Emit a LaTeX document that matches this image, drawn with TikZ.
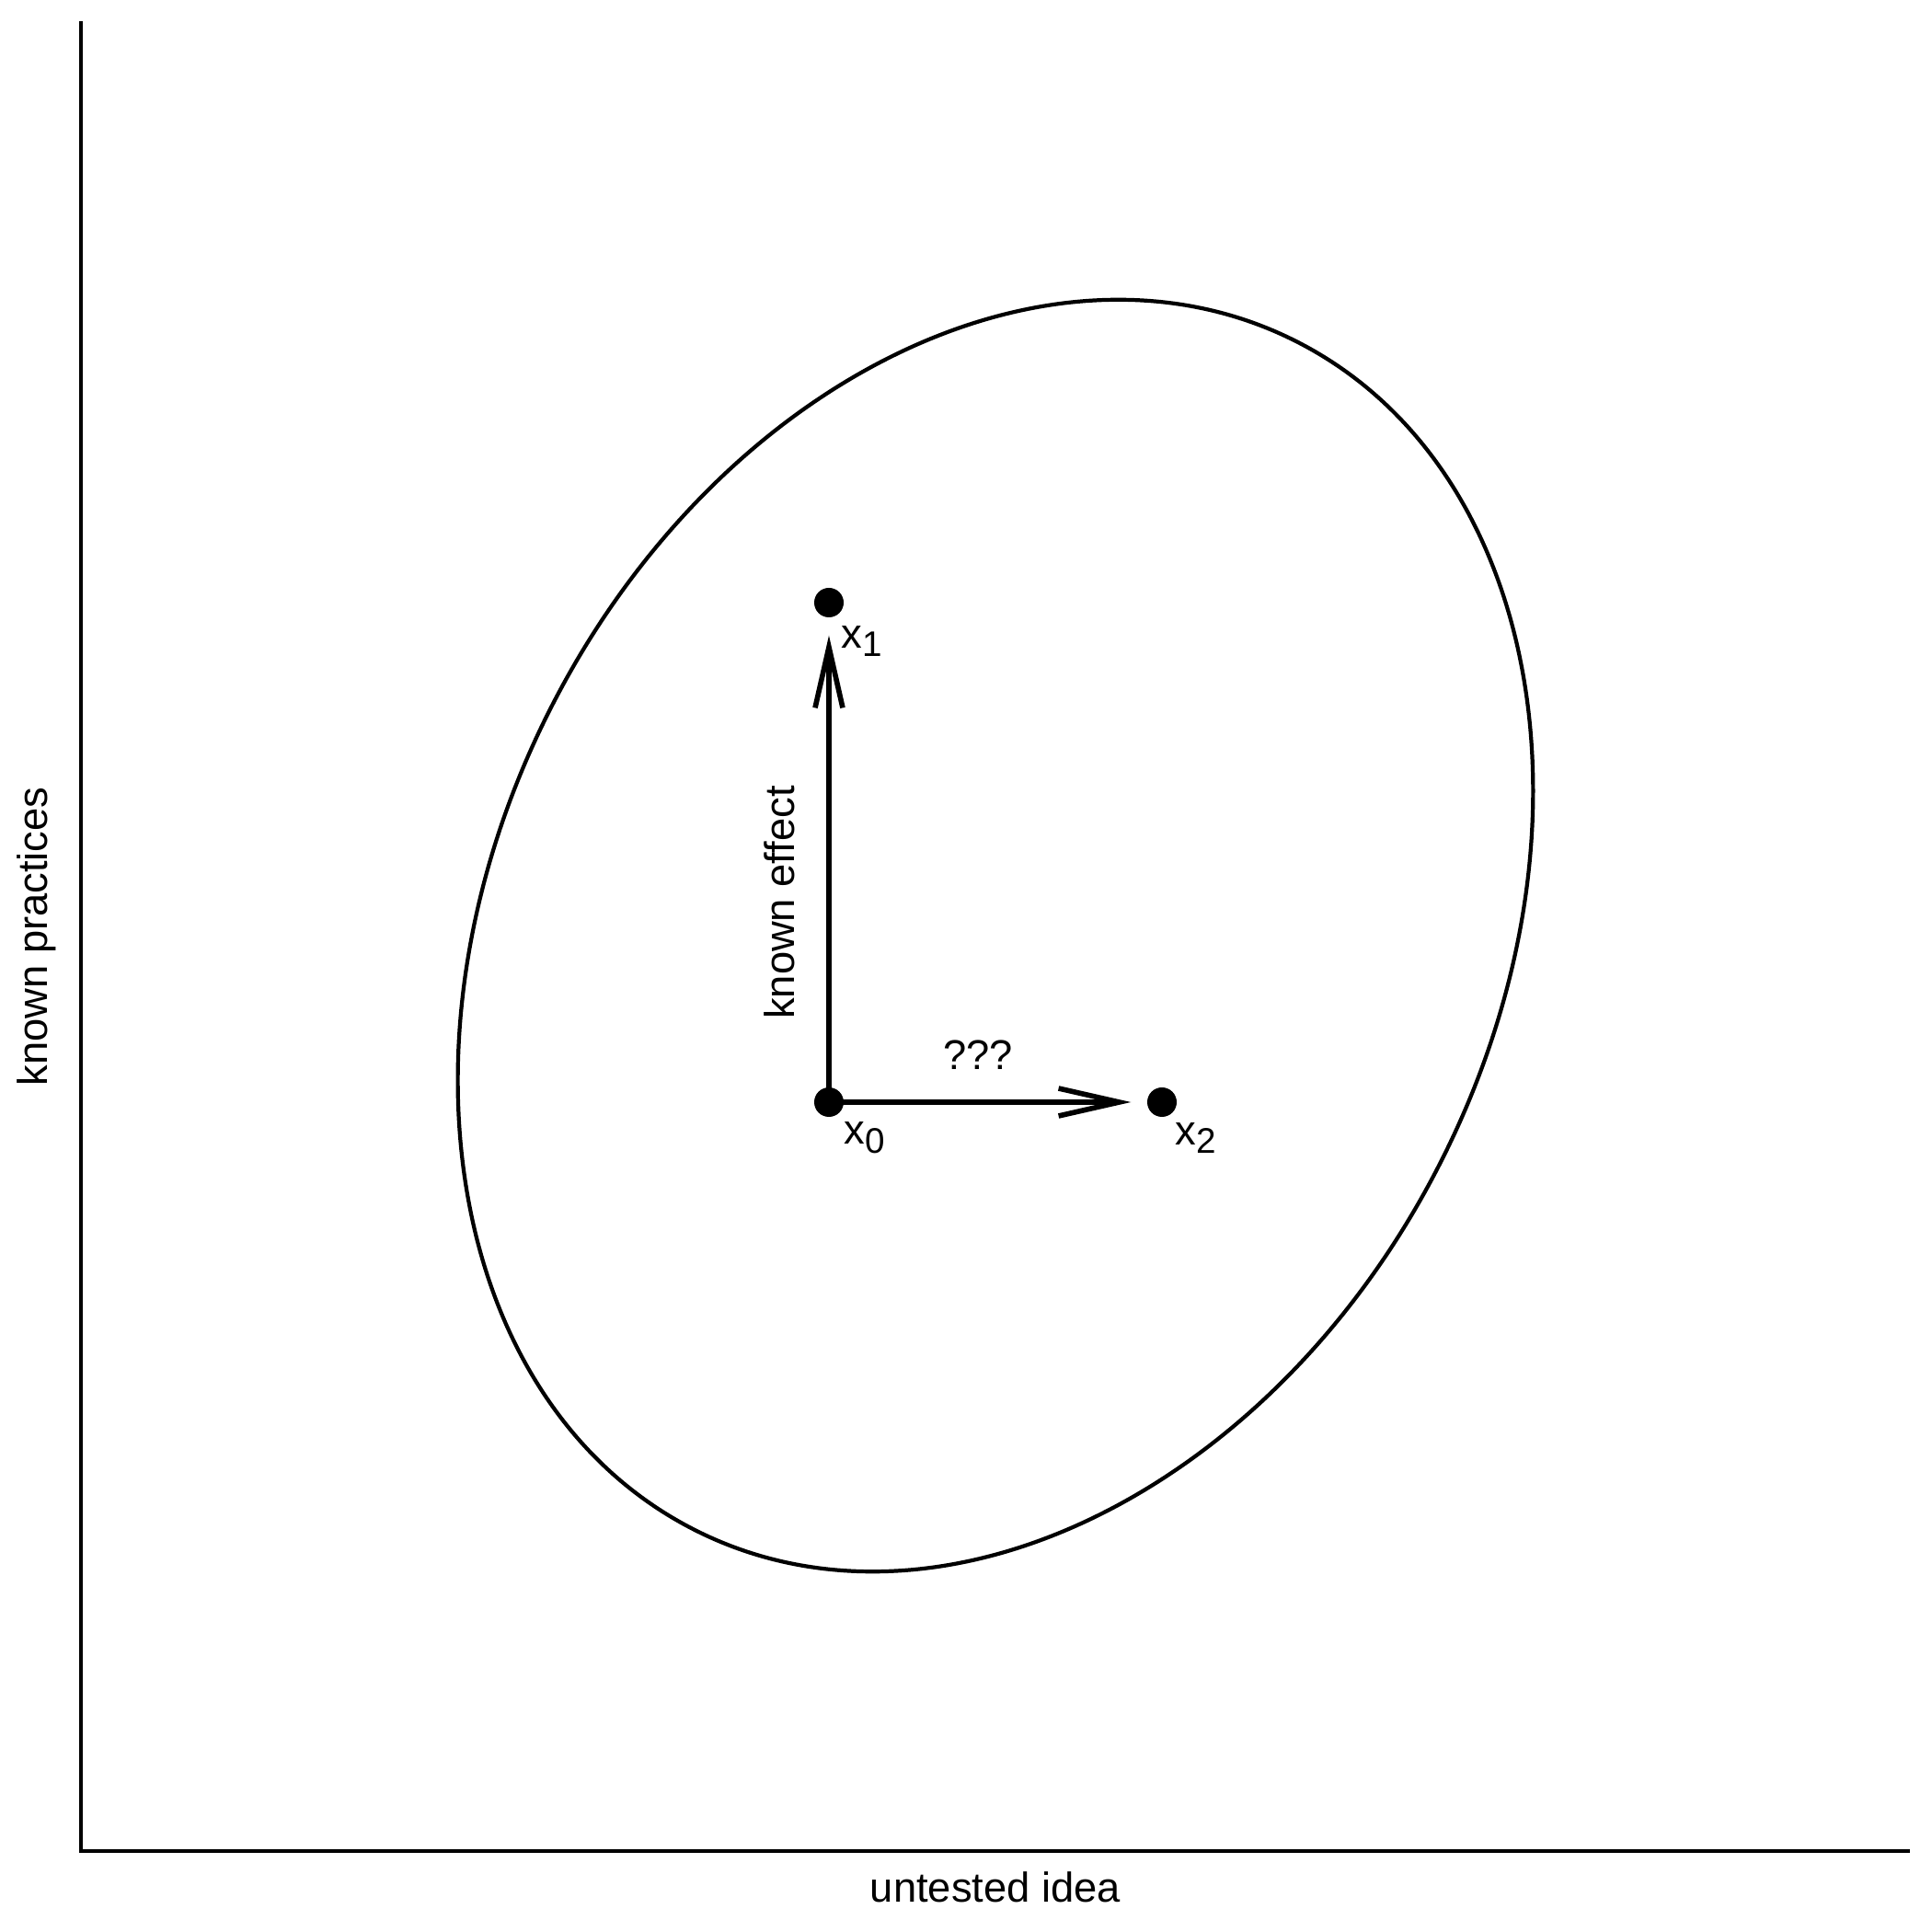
\documentclass[tikz,border=0pt]{standalone}
\usepackage{fontspec}
\setmainfont{Liberation Sans}
\usepackage{xcolor}
\usepackage{tikz}
\usetikzlibrary{arrows.meta}
\definecolor{plotInk}{HTML}{000000}
\newcommand{\ptname}[1]{x\raisebox{-2.8pt}{\fontsize{11}{13}\selectfont #1}}
\tikzset{
  axisline/.style={line width=1.1pt, draw=plotInk},
  regionline/.style={line width=1.2pt, draw=plotInk},
  ptdot/.style={circle, fill=plotInk, inner sep=0pt, minimum size=0.32cm},
  ptlab/.style={font=\fontsize{12.9}{15}\selectfont, inner sep=0pt},
  axislab/.style={font=\fontsize{12.9}{15}\selectfont, inner sep=0pt},
  moveArrow/.style={-{Straight Barb[length=6.6mm,width=3mm]}, line width=1.6pt, draw=plotInk},
}
\begin{document}
\begin{tikzpicture}[x=1cm,y=1cm]
  \useasboundingbox (0,0) rectangle (21,21);
  % axes
  \draw[axisline] (0.88,20.77) -- (0.88,0.86);
  \draw[axisline] (0.86,0.88) -- (20.76,0.88);
  \node[axislab, rotate=90] (ylab) at (0.40,10.82) {known practices};
  \node[axislab] (xlab) at (10.82,0.49) {untested idea};
  % region
  \draw[regionline, rotate around={63.2:(10.82,10.83)}] (10.82,10.83) ellipse (7.24 and 5.43);
  % points
  \node[ptdot] (x0) at (9.01,9.02) {};
  \node[ptdot] (x1) at (9.01,14.45) {};
  \node[ptdot] (x2) at (12.63,9.02) {};
  \node[ptlab] (x0lab) at (9.40,8.63) {\ptname{0}};
  \node[ptlab] (x1lab) at (9.37,14.03) {\ptname{1}};
  \node[ptlab] (x2lab) at (13.00,8.63) {\ptname{2}};
  % moves
  \draw[moveArrow, shorten >=0.19cm] (x0.center) -- (x1);
  \draw[moveArrow, shorten >=0.17cm] (x0.center) -- (x2);
  \node[ptlab, rotate=90] (known) at (8.47,11.19) {known effect};
  \node[ptlab] (unknown) at (10.63,9.53) {???};
\end{tikzpicture}
\end{document}
